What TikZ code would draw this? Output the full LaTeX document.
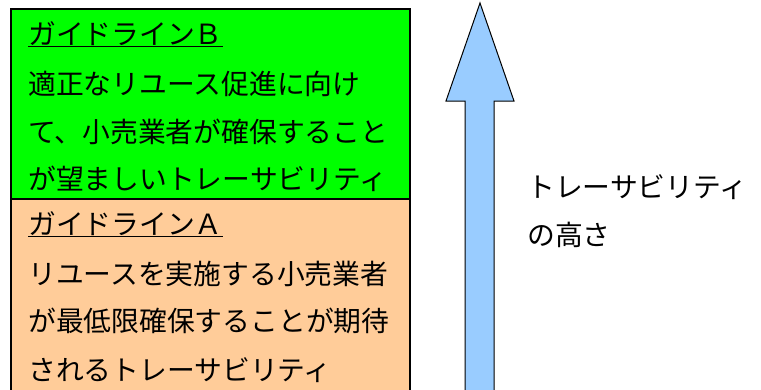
\documentclass[tikz,border=0pt]{standalone}
\usepackage{fontspec}
\newfontfamily\jpfont{Noto Sans CJK JP}
\definecolor{guideB}{HTML}{00FF00}
\definecolor{guideA}{HTML}{FFCC99}
\definecolor{arrowblue}{HTML}{99CCFF}

\begin{document}
\begin{tikzpicture}[
            x=1pt, y=-1pt,
            every node/.style={inner sep=0pt,anchor=base west,font=\jpfont\fontsize{27.8}{27.8}\selectfont},
            box/.style={draw,line width=2pt}
            ]
            \useasboundingbox (0,0) rectangle (761,389);
            \draw[box,fill=guideA] (11,199) rectangle (410,420);
            \draw[box,fill=guideB] (11,9) rectangle (410,199);
            % guideline B
            \node (titleB) at (28,44) {\underline{ガイドラインＢ}};
            \node (lineB1) at (28,94) {適正なリユース促進に向け};
            \node (lineB2) at (28,142) {て、小売業者が確保すること};
            \node (lineB3) at (28,189) {が望ましいトレーサビリティ};
            % guideline A
            \node (titleA) at (28,234) {\underline{ガイドラインＡ}};
            \node (lineA1) at (28,284) {リユースを実施する小売業者};
            \node (lineA2) at (28,331) {が最低限確保することが期待};
            \node (lineA3) at (28,380) {されるトレーサビリティ};
            % arrow
            \draw[line width=1pt,fill=arrowblue] (465,420) -- (465,101) -- (446,101) -- (480,3)
                -- (514,101) -- (494,101) -- (494,420);
            \node (height1) at (527,197) {トレーサビリティ};
            \node (height2) at (527,245) {の高さ};
        \end{tikzpicture}
\end{document}
